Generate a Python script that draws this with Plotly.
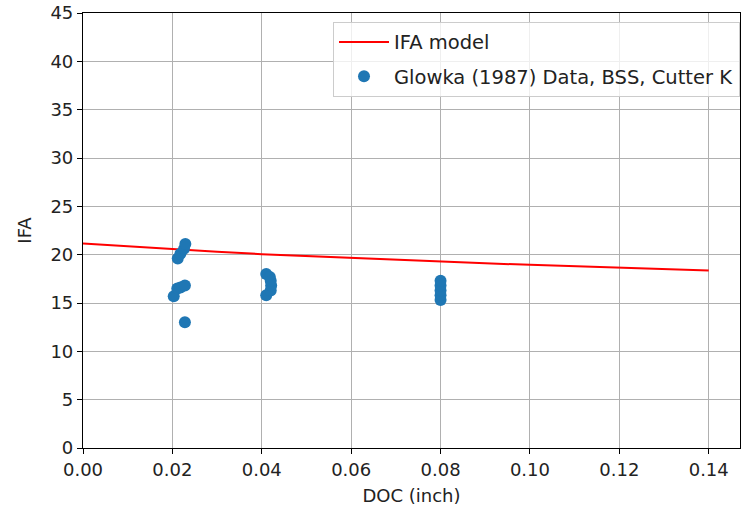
import plotly.graph_objects as go

# IFA model curve
model_doc = [0.0, 0.01, 0.02, 0.03, 0.04, 0.05, 0.06, 0.07, 0.08, 0.09, 0.10, 0.11, 0.12, 0.13, 0.14]
model_ifa = [21.15, 20.85, 20.55, 20.3, 20.05, 19.85, 19.65, 19.45, 19.3, 19.1, 18.95, 18.8, 18.65, 18.5, 18.35]

# Glowka (1987) data, BSS, Cutter K
data_doc = [0.0203, 0.0211, 0.0218, 0.0228, 0.0228, 0.0212, 0.0218, 0.0226, 0.0229,
            0.0410, 0.0418, 0.0410, 0.0420, 0.0421, 0.0420,
            0.0800, 0.0800, 0.0800, 0.0800, 0.0800]
data_ifa = [15.7, 16.5, 16.6, 16.8, 13.0, 19.6, 20.1, 20.6, 21.1,
            18.0, 17.7, 15.8, 16.3, 16.8, 17.3,
            15.3, 15.8, 16.3, 16.8, 17.3]

font = "DejaVu Sans"
fs = 18

fig = go.Figure()
fig.add_trace(go.Scatter(x=model_doc, y=model_ifa, mode="lines", name="IFA model",
                         legendgroup="a",
                         line=dict(color="red", width=2)))
fig.add_trace(go.Scatter(x=data_doc, y=data_ifa, mode="markers",
                         name="Glowka (1987) Data, BSS, Cutter K",
                         legendgroup="b",
                         marker=dict(color="#1f77b4", size=12)))

axis_common = dict(showgrid=True, gridcolor="#b0b0b0", gridwidth=1,
                   showline=True, linecolor="black", linewidth=1.2, mirror=True,
                   ticks="outside", ticklen=5, tickcolor="black",
                   tickfont=dict(family=font, size=fs, color="#222"),
                   ticklabeloverflow="allow",
                   zeroline=False)

fig.update_layout(
    width=741, height=515,
    paper_bgcolor="white", plot_bgcolor="white",
    margin=dict(l=83, r=1, t=13, b=67),
    font=dict(family=font, size=fs, color="#222"),
    xaxis=dict(range=[0, 0.147], tickvals=[0, 0.02, 0.04, 0.06, 0.08, 0.10, 0.12, 0.14],
               tickformat=".2f",
               title=dict(text="DOC (inch)", font=dict(family=font, size=fs), standoff=10),
               **axis_common),
    yaxis=dict(range=[0, 45], tickvals=list(range(0, 50, 5)),
               title=dict(text="IFA", font=dict(family=font, size=fs), standoff=14),
               **axis_common),
    legend=dict(x=1.0, y=0.98, xanchor="right", yanchor="top",
                bgcolor="rgba(255,255,255,0.8)", bordercolor="#cccccc", borderwidth=1,
                font=dict(family=font, size=19.5, color="#222"),
                tracegroupgap=6,
                itemwidth=50),
    showlegend=True,
)

fig.write_html("out.html", config={"displayModeBar": False},
               post_script="document.body.style.margin='0';document.body.style.overflow='hidden';")
